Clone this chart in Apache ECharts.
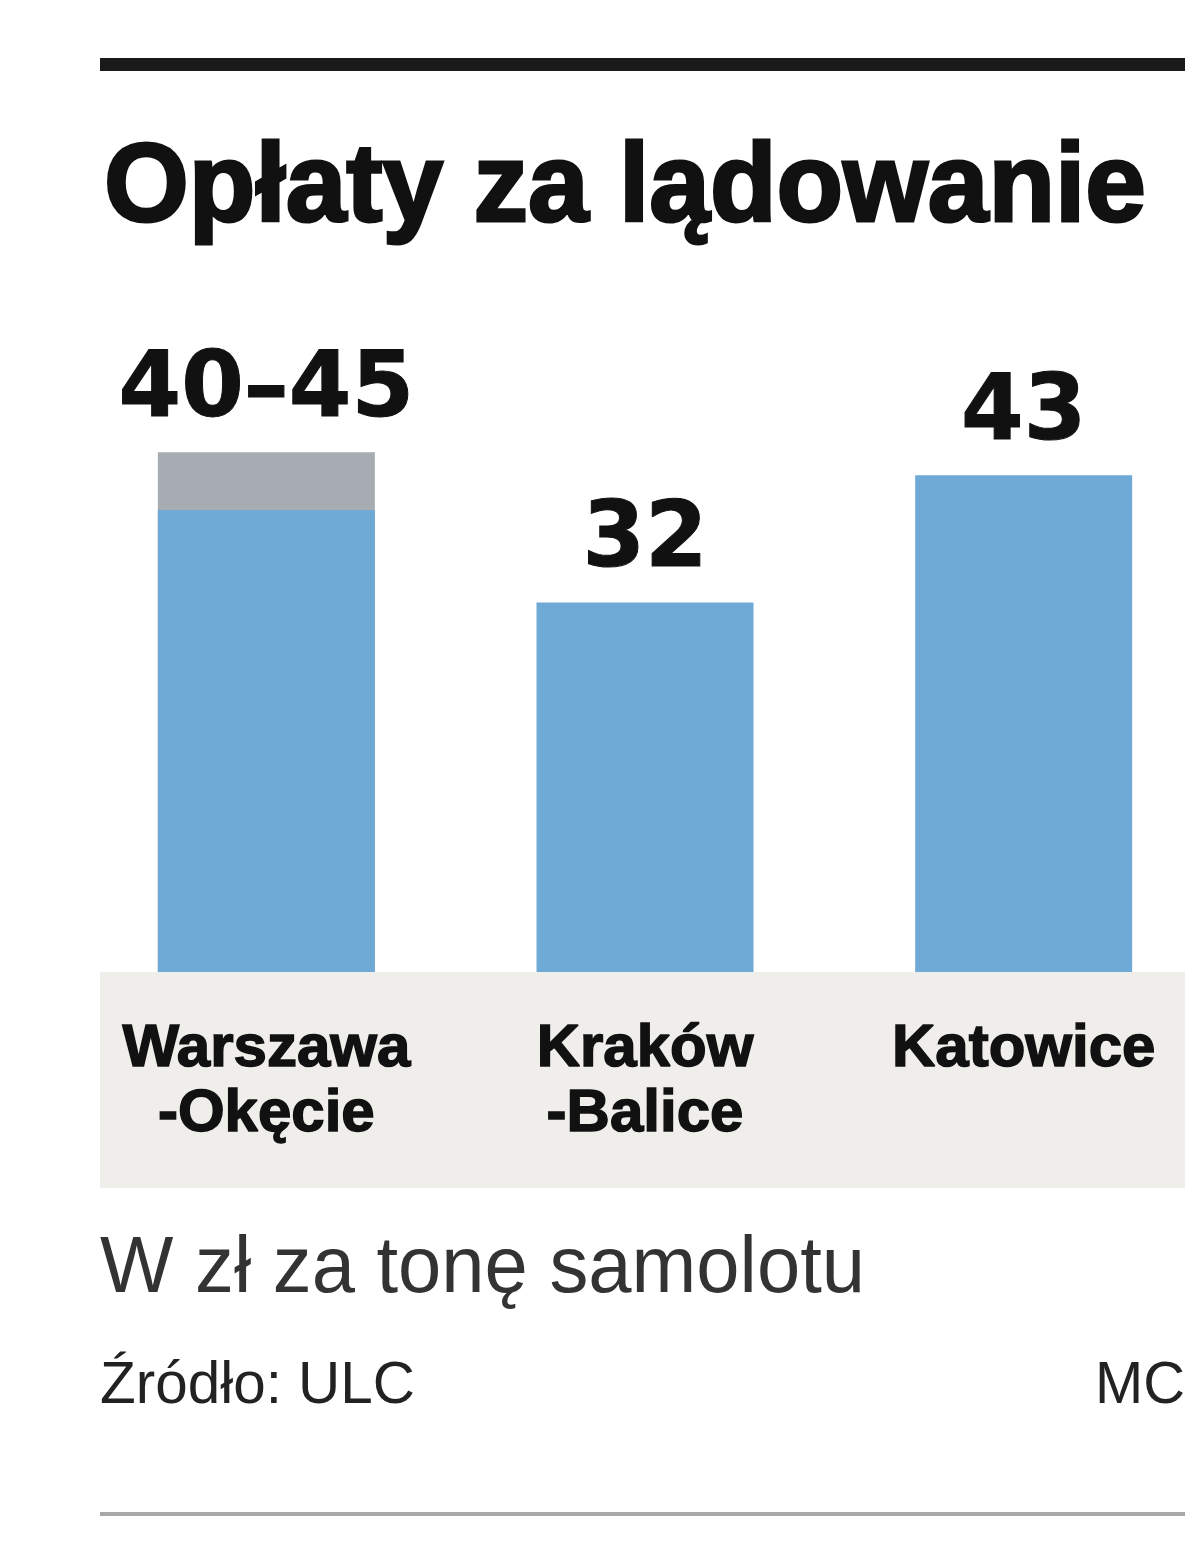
<!DOCTYPE html>
<html>
<head>
<meta charset="utf-8">
<script src="https://cdn.jsdelivr.net/npm/echarts@6/dist/echarts.min.js"></script>
<style>
html,body{margin:0;padding:0;background:#fff;}
#chart{width:1200px;height:1554px;}
</style>
</head>
<body>
<div id="chart"></div>
<script>
// ---- data ----
const titleText = 'Opłaty za lądowanie';
const subtitleText = 'W zł za tonę samolotu';
const sourceText = 'Źródło: ULC';
const authorText = 'MC';
const categories = ['Warszawa\n-Okęcie', 'Kraków\n-Balice', 'Katowice'];
const lowValues = [40, 32, 43];          // blue bars (lower bound / value)
const highValues = [45, null, null];     // grey extension (upper bound of range)
const valueLabels = ['40–45', '32', '43'];

// ---- helpers ----
const mctx = document.createElement('canvas').getContext('2d');
function fitScale(text, font, target) {
  mctx.font = font;
  return target / mctx.measureText(text).width;
}

const FONT = '"Liberation Sans", Arial, sans-serif';
const NUMFONT = '"DejaVu Sans", "Liberation Sans", sans-serif';
const titleFont = 'bold 112px ' + FONT;
const subFont = '80px ' + FONT;
const srcFont = '60px ' + FONT;

const chart = echarts.init(document.getElementById('chart'), null, {renderer: 'canvas'});

const labelStyle = {
  show: true,
  position: 'top',
  distance: 15,
  fontFamily: NUMFONT,
  fontWeight: 'bold',
  fontSize: 90,
  lineHeight: 90,
  color: '#111',
  textBorderColor: '#111',
  textBorderWidth: 1
};

chart.setOption({
  animation: false,
  backgroundColor: '#ffffff',
  grid: {left: 77, width: 1136, top: 394.5, bottom: 582, containLabel: false, outerBoundsMode: 'none'},
  xAxis: {
    type: 'category',
    data: categories,
    axisLine: {show: false},
    axisTick: {show: false},
    axisLabel: {
      margin: 45,
      fontFamily: FONT,
      fontWeight: 'bold',
      fontSize: 60,
      lineHeight: 65,
      color: '#111',
      textBorderColor: '#111',
      textBorderWidth: 1.5,
      interval: 0
    },
    z: 5
  },
  yAxis: {
    type: 'value',
    min: 0,
    max: 50,
    show: false,
    splitLine: {show: false}
  },
  graphic: [
    {type: 'rect', shape: {x: 100, y: 58, width: 1085, height: 13}, style: {fill: '#1a1a1a'}, z: 1},
    {type: 'text', x: 104, y: 190, scaleX: fitScale(titleText, titleFont, 1042),
     style: {text: titleText, font: titleFont, fill: '#111', stroke: '#111', lineWidth: 3,
             textAlign: 'left', textVerticalAlign: 'middle'}},
    {type: 'rect', shape: {x: 100, y: 972, width: 1085, height: 216}, style: {fill: '#efeeea'}, z: -10},
    {type: 'text', x: 100, y: 1270, scaleX: fitScale(subtitleText, subFont, 765),
     style: {text: subtitleText, font: subFont, fill: '#333', textAlign: 'left', textVerticalAlign: 'middle'}},
    {type: 'text', x: 100, y: 1386, scaleX: fitScale(sourceText, srcFont, 315),
     style: {text: sourceText, font: srcFont, fill: '#222', textAlign: 'left', textVerticalAlign: 'middle'}},
    {type: 'text', x: 1185, y: 1386, scaleX: fitScale(authorText, srcFont, 90),
     style: {text: authorText, font: srcFont, fill: '#222', textAlign: 'right', textVerticalAlign: 'middle'}},
    {type: 'rect', shape: {x: 100, y: 1512, width: 1085, height: 4}, style: {fill: '#a8a8a8'}}
  ],
  series: [
    {
      type: 'bar',
      name: 'range',
      data: highValues,
      barWidth: 217,
      barGap: '-100%',
      itemStyle: {color: '#a6acb2'},
      z: 2,
      label: Object.assign({}, labelStyle, {
        formatter: p => valueLabels[p.dataIndex]
      })
    },
    {
      type: 'bar',
      name: 'value',
      data: lowValues,
      barWidth: 217,
      barGap: '-100%',
      itemStyle: {color: '#6fa9d6'},
      z: 3,
      label: Object.assign({}, labelStyle, {
        formatter: p => (highValues[p.dataIndex] == null ? valueLabels[p.dataIndex] : '')
      })
    }
  ]
});
</script>
</body>
</html>
